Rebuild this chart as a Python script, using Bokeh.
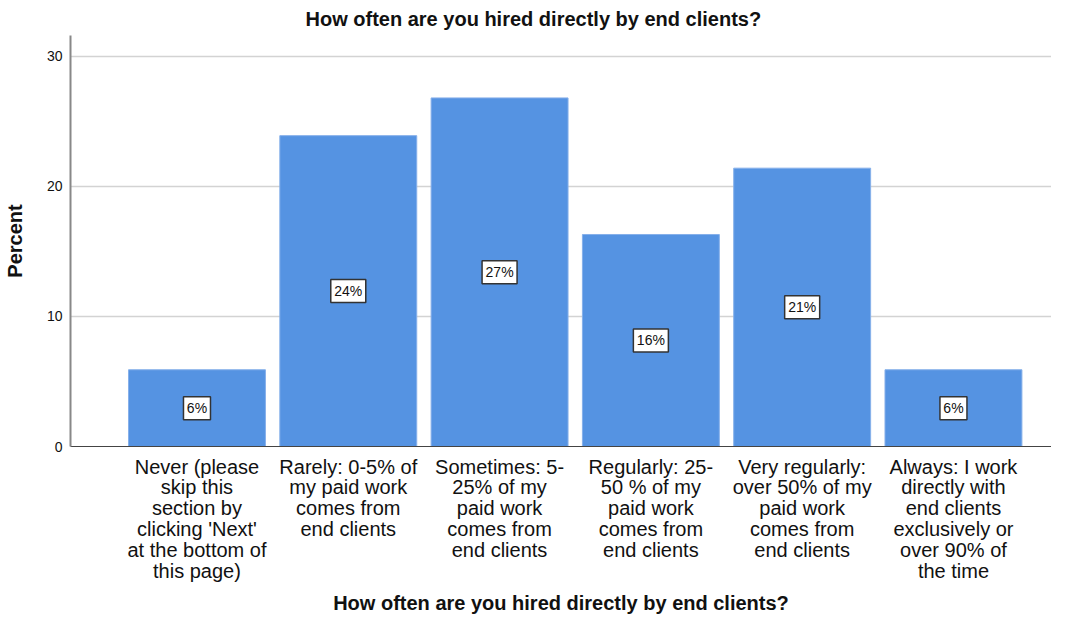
from bokeh.plotting import figure
from bokeh.layouts import column
from bokeh.models import ColumnDataSource, Range1d, FixedTicker
from bokeh.core.properties import value
from bokeh.embed import file_html
from bokeh.resources import INLINE

categories = [
    "Never (please\nskip this\nsection by\nclicking 'Next'\nat the bottom of\nthis page)",
    "Rarely: 0-5% of\nmy paid work\ncomes from\nend clients",
    "Sometimes: 5-\n25% of my\npaid work\ncomes from\nend clients",
    "Regularly: 25-\n50 % of my\npaid work\ncomes from\nend clients",
    "Very regularly:\nover 50% of my\npaid work\ncomes from\nend clients",
    "Always: I work\ndirectly with\nend clients\nexclusively or\nover 90% of\nthe time",
]
percents = [5.9, 23.9, 26.8, 16.3, 21.4, 5.9]
bar_labels = ["6%", "24%", "27%", "16%", "21%", "6%"]
y_ticks = [0, 10, 20, 30]

xs = list(range(len(categories)))
src = ColumnDataSource(dict(
    x=xs, top=percents, mid=[v / 2 for v in percents], lab=bar_labels,
    bw=[8 * len(s) + 11 for s in bar_labels], one=[1] * len(xs),
    cat=categories))

FONT = "Liberation Sans"
TITLE = "How often are you hired directly by end clients?"
xr = Range1d(-0.836, 5.648)

p = figure(width=1051, height=454, output_backend="svg", toolbar_location=None,
           x_range=xr, y_range=Range1d(0, 31.6), title=TITLE)
p.min_border_left = 63
p.min_border_right = 0
p.min_border_top = 0
p.min_border_bottom = 8
p.outline_line_color = None
p.background_fill_color = "white"

p.title.align = "left"
p.title.offset = 235
p.title.text_font = FONT
p.title.text_font_size = "20px"
p.title.text_font_style = "bold"
p.title.text_color = "#111111"
p.title.standoff = 11

p.vbar(x="x", top="top", width=0.905, source=src,
       fill_color="#5593e2", line_color="#86b0ea", line_width=1)

p.rect(x="x", y="mid", width="bw", height=23, width_units="screen",
       height_units="screen", source=src, fill_color="white",
       line_color="#333333", line_width=1.5)
p.text(x="x", y="mid", text="lab", source=src, text_align="center",
       text_baseline="middle", text_font=value(FONT),
       text_font_size=value("14px"), text_color="#111111")

# x axis (line only)
p.xaxis.ticker = FixedTicker(ticks=[])
p.xaxis.major_tick_line_color = None
p.xaxis.minor_tick_line_color = None
p.xaxis.axis_line_color = "#444444"
p.xaxis.axis_line_width = 1.2
p.xaxis.major_label_standoff = 0

# y axis
p.yaxis.ticker = FixedTicker(ticks=y_ticks)
p.yaxis.major_label_text_font = FONT
p.yaxis.major_label_text_font_size = "14px"
p.yaxis.major_label_text_color = "#111111"
p.yaxis.major_tick_line_color = None
p.yaxis.minor_tick_line_color = None
p.yaxis.axis_line_color = "#888888"
p.yaxis.axis_line_width = 2
p.yaxis.major_label_standoff = 2
p.yaxis.axis_label = "Percent"
p.yaxis.axis_label_text_font = FONT
p.yaxis.axis_label_text_font_size = "20px"
p.yaxis.axis_label_text_font_style = "bold"
p.yaxis.axis_label_text_color = "#111111"
p.yaxis.axis_label_standoff = 18

p.xgrid.grid_line_color = None
p.ygrid.grid_line_color = "#d3d3d3"
p.ygrid.grid_line_width = 1.5

# lower figure: category labels and x-axis title
q = figure(width=1051, height=162, output_backend="svg", toolbar_location=None,
           x_range=xr, y_range=Range1d(0, 1))
q.min_border_left = 63
q.min_border_right = 0
q.min_border_top = 0
q.min_border_bottom = 0
q.outline_line_color = None
q.xgrid.visible = False
q.ygrid.visible = False
q.yaxis.visible = False
q.text(x="x", y="one", text="cat", source=src, y_offset=1,
       text_align="center", text_baseline="top", text_font=value(FONT),
       text_font_size=value("20px"), text_line_height=0.95,
       text_color="#111111")
q.xaxis.ticker = FixedTicker(ticks=[])
q.xaxis.axis_line_color = None
q.xaxis.major_tick_line_color = None
q.xaxis.minor_tick_line_color = None
q.xaxis.major_label_standoff = 0
q.xaxis.axis_label = TITLE
q.xaxis.axis_label_text_font = FONT
q.xaxis.axis_label_text_font_size = "20px"
q.xaxis.axis_label_text_font_style = "bold"
q.xaxis.axis_label_text_color = "#111111"
q.xaxis.axis_label_standoff = 0

layout = column(p, q, spacing=0)
open("out.html", "w").write(file_html(layout, INLINE))
